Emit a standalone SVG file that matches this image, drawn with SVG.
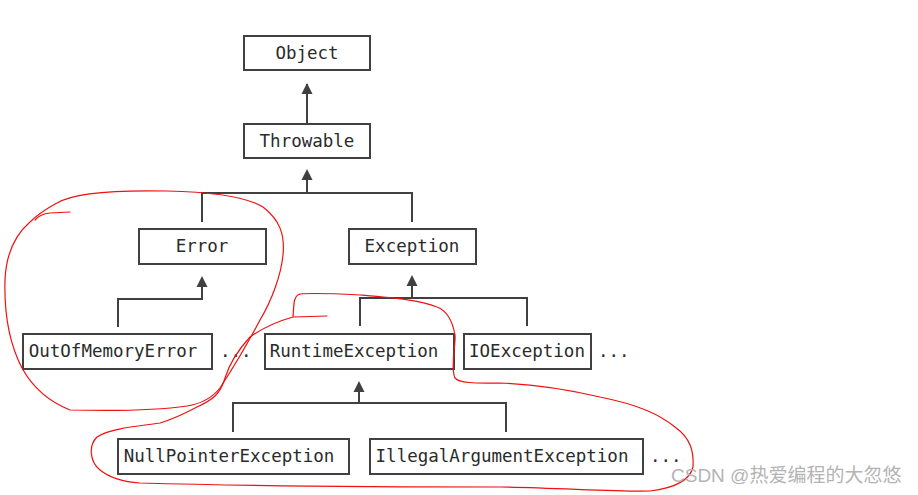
<svg xmlns="http://www.w3.org/2000/svg" width="918" height="495" viewBox="0 0 918 495">
<defs>
<style>
.box{fill:#fff;stroke:#404040;stroke-width:2}
.lbl{font-family:"DejaVu Sans Mono","Liberation Mono",monospace;font-size:17.5px;fill:#2b2b2b;text-anchor:middle}
.dots{font-family:"DejaVu Sans Mono","Liberation Mono",monospace;font-size:17.5px;fill:#2b2b2b}
.ln{fill:none;stroke:#404040;stroke-width:2}
.red{fill:none;stroke:#f01010;stroke-width:1.2;stroke-linejoin:round;stroke-linecap:round}
.wm{font-family:"Liberation Sans","Noto Sans CJK SC",sans-serif;font-size:19px;fill:#b4b4b4}
</style>
</defs>
<rect width="918" height="495" fill="#fff"/>

<g id="connectors">
<path class="ln" d="M307,124 V84"/>
<polygon points="307,83 301.5,94 312.5,94" fill="#404040"/>
<path class="ln" d="M307,180 V193 M202,222 V193 H412 V222"/>
<polygon points="307,169 301.5,180 312.5,180" fill="#404040"/>
<path class="ln" d="M118,327 V299 H202 V285"/>
<polygon points="202,276 196.5,287 207.5,287" fill="#404040"/>
<path class="ln" d="M412,285 V298 M360,326 V298 H527 V326"/>
<polygon points="412,275 406.5,286 417.5,286" fill="#404040"/>
<path class="ln" d="M359,391 V403 M233,432 V403 H506 V432"/>
<polygon points="359,381 353.5,392 364.5,392" fill="#404040"/>
</g>

<g id="object"><rect class="box" x="244" y="36" width="126" height="34"/><text class="lbl" x="307" y="59">Object</text></g>
<g id="throwable"><rect class="box" x="244" y="124" width="126" height="34"/><text class="lbl" x="307" y="147">Throwable</text></g>
<g id="error"><rect class="box" x="139" y="229" width="127" height="35"/><text class="lbl" x="202" y="252">Error</text></g>
<g id="exception"><rect class="box" x="349" y="229" width="127" height="35"/><text class="lbl" x="412" y="252">Exception</text></g>
<g id="oom"><rect class="box" x="23" y="334" width="189" height="35"/><text class="lbl" x="113" y="357">OutOfMemoryError</text><text class="dots" x="220" y="357">...</text></g>
<g id="runtime"><rect class="box" x="265" y="334" width="189" height="35"/><text class="lbl" x="354" y="357">RuntimeException</text></g>
<g id="ioexception"><rect class="box" x="464" y="334" width="127" height="35"/><text class="lbl" x="527" y="357">IOException</text><text class="dots" x="598" y="357">...</text></g>
<g id="npe"><rect class="box" x="118" y="439" width="231" height="35"/><text class="lbl" x="229" y="462">NullPointerException</text></g>
<g id="iae"><rect class="box" x="370" y="439" width="273" height="35"/><text class="lbl" x="502" y="462">IllegalArgumentException</text><text class="dots" x="650" y="462">...</text></g>

<g id="annotations">
<path class="red" d="M70,212 L50,213 Q40,214 35,220"/>
<path class="red" d="M57,203 C75,192 120,190 167,191 C210,192 245,196 263,207 C280,220 285,235 283,255 C281,275 272,300 260,320 C248,343 235,365 220,388 C212,398 200,404 187,406 C160,410 110,411 70,410 C50,402 33,388 22,368 C10,345 4,315 5,280 C6,255 15,235 30,222 C40,212 48,208 57,203 Z"/>
<path class="red" d="M327,316 L293,317 C275,322 260,330 250,337 C238,350 230,362 225,378 C220,395 212,400 197,407 C180,416 170,420 160,423 C140,426 110,428 97,437 C88,446 90,462 100,470 C110,478 125,482 140,483 C250,486 400,487 500,487 C560,488 620,492 650,491 C675,488 690,480 693,467 C694,450 690,438 675,427 C660,415 640,405 600,397 C570,390 530,384 500,383 C480,383 460,384 455,378 C450,368 456,345 455,335 C452,318 445,310 437,307 C420,300 395,298 360,295 C340,294 310,293 300,294 C293,296 294,305 293,317"/>
</g>

<text class="wm" x="671" y="482">CSDN @热爱编程的大忽悠</text>
</svg>
